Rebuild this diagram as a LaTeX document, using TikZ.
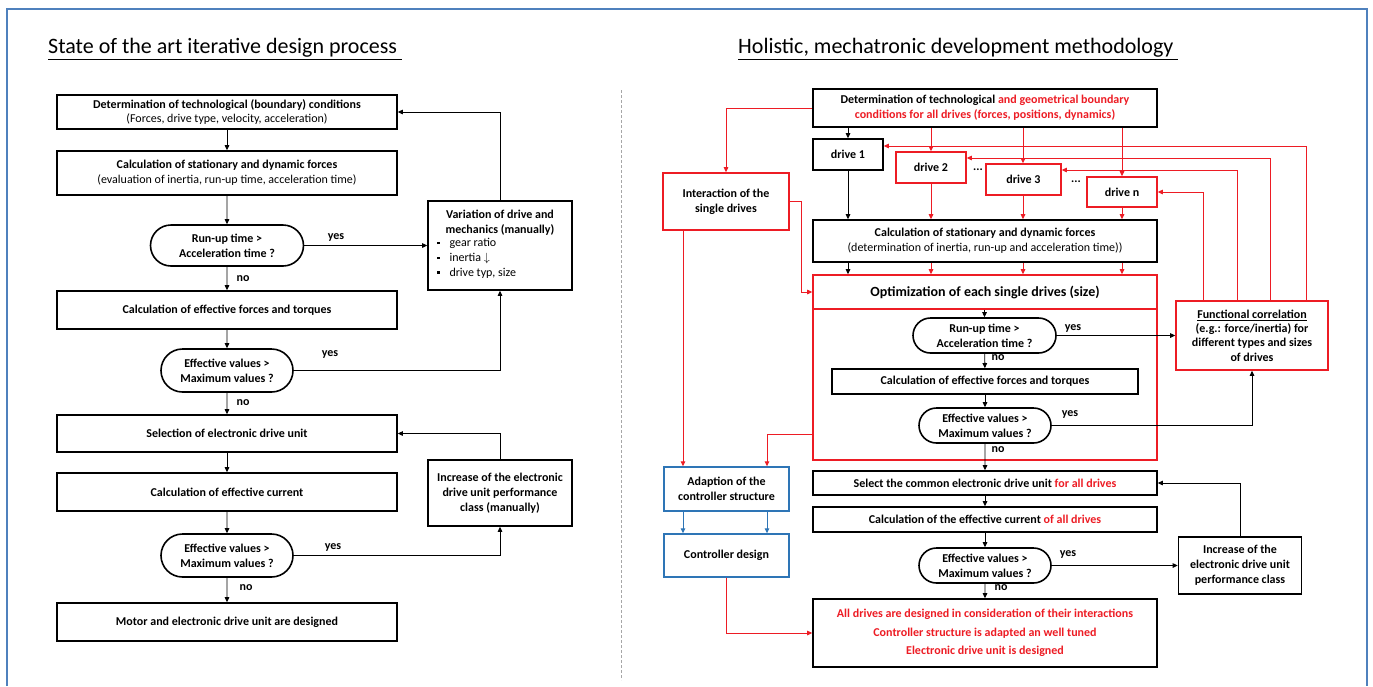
\documentclass[tikz,border=0pt]{standalone}
\usepackage{fontspec}
\setmainfont{Carlito}
\usetikzlibrary{arrows.meta,shapes.misc,calc}
\definecolor{myred}{RGB}{237,28,36}
\definecolor{myblue}{RGB}{46,117,182}
\definecolor{frameblue}{RGB}{79,129,189}
\begin{document}
\begin{tikzpicture}[x=1pt,y=-1pt,
  txt/.style={font=\fontsize{12}{14.8}\selectfont\bfseries},
  box/.style={txt, draw, line width=1.6pt, rectangle, align=center, inner sep=1pt},
  rbox/.style={box, draw=myred},
  bbox/.style={box, draw=myblue, line width=1.4pt},
  dec/.style={txt, draw, line width=1.6pt, rounded rectangle, align=center, inner sep=1pt},
  arr/.style={line width=0.9pt, -{Triangle[length=5pt,width=4.5pt]}},
  rarr/.style={arr, draw=myred},
  barr/.style={arr, draw=myblue},
  lbl/.style={txt, inner sep=0pt},
  title/.style={font=\fontsize{22}{24}\selectfont, inner sep=0pt, anchor=west}
]
\useasboundingbox[fill=white] (0,0) rectangle (1373,686);
\draw[frameblue, line width=1.5pt] (7,686) -- (7,9) -- (1367,9) -- (1367,686);
\draw[gray!70, line width=0.9pt, dash pattern=on 3pt off 2pt] (621,90) -- (621,680);

% titles
\node[title] (T1) at (48,49) {\underline{State of the art iterative design process\ }};
\node[title] (T2) at (738,49) {\underline{Holistic, mechatronic development methodology\ }};

% ---------------- left panel ----------------
\node[box, minimum width=340pt, minimum height=34pt] (L1) at (227,112) {Determination of technological (boundary) conditions\\{\mdseries (Forces, drive type, velocity, acceleration)}};
\node[box, minimum width=340pt, minimum height=44pt] (L2) at (227,173) {Calculation of stationary and dynamic forces\\{\mdseries (evaluation of inertia, run-up time, acceleration time)}};
\node[dec, minimum width=155pt, minimum height=41pt] (L3) at (227,245.5) {Run-up time >\\Acceleration time ?};
\node[box, minimum width=144pt, minimum height=89pt] (LV) at (500,245.5) {Variation of drive and\\mechanics (manually)\\
\makebox[126pt][l]{\mdseries\begin{tabular}{@{}l@{\hspace{10pt}}l@{}}\rule[2.5pt]{2.5pt}{2.5pt} & gear ratio\\ \rule[2.5pt]{2.5pt}{2.5pt} & inertia $\downarrow$\\ \rule[2.5pt]{2.5pt}{2.5pt} & drive typ, size\end{tabular}}};
\node[box, minimum width=340pt, minimum height=38pt] (L4) at (227,310) {Calculation of effective forces and torques};
\node[dec, minimum width=134pt, minimum height=43pt] (L5) at (227,370.5) {Effective values >\\Maximum values ?};
\node[box, minimum width=340pt, minimum height=37pt] (L6) at (227,433.5) {Selection of electronic drive unit};
\node[box, minimum width=340pt, minimum height=38pt] (L7) at (227,492) {Calculation of effective current};
\node[dec, minimum width=134pt, minimum height=43pt] (L8) at (227,555.5) {Effective values >\\Maximum values ?};
\node[box, minimum width=144pt, minimum height=66pt] (LI) at (500,493) {Increase of the electronic\\drive unit performance\\class (manually)};
\node[box, minimum width=340pt, minimum height=38pt] (L9) at (227,622) {Motor and electronic drive unit are designed};

\draw[arr] (L1) -- (L2);
\draw[arr] (L2) -- (L3);
\draw[arr] (L3) -- (L4);
\draw[arr] (L4) -- (L5);
\draw[arr] (L5) -- (L6);
\draw[arr] (L6) -- (L7);
\draw[arr] (L7) -- (L8);
\draw[arr] (L8) -- (L9);
\draw[arr] (L3.east) -- (L3.east -| LV.west);
\draw[arr] (L5.east) -| (LV.south);
\draw[arr] (LV.north) |- (L1.east);
\draw[arr] (L8.east) -| (LI.south);
\draw[arr] (LI.north) |- (L6.east);

\node[lbl] (y1) at (336,237) {yes};
\node[lbl] (y2) at (330,354) {yes};
\node[lbl] (y3) at (333,547) {yes};
\node[lbl] (n1) at (243,279) {no};
\node[lbl] (n2) at (243,403) {no};
\node[lbl] (n3) at (246,588) {no};

% ---------------- right panel ----------------
\node[box, minimum width=344pt, minimum height=38pt] (R1) at (985,108) {Determination of technological \textcolor{myred}{and geometrical boundary}\\\textcolor{myred}{conditions for all drives (forces, positions, dynamics)}};
\node[box, minimum width=70pt, minimum height=31pt] (D1) at (848,154.5) {drive 1};
\node[rbox, minimum width=70pt, minimum height=31pt] (D2) at (931,167.5) {drive 2};
\node[rbox, minimum width=75pt, minimum height=31pt] (D3) at (1023.5,179.5) {drive 3};
\node[rbox, minimum width=70pt, minimum height=30pt] (Dn) at (1122,192) {drive n};
\node[lbl] (dots1) at (978,170) {...};
\node[lbl] (dots2) at (1076,182) {...};
\node[box, minimum width=344pt, minimum height=42pt] (R2) at (985,241) {Calculation of stationary and dynamic forces\\{\mdseries (determination of inertia, run-up and acceleration time))}};
\node[rbox, minimum width=344pt, minimum height=185pt] (OB) at (985,367.5) {};
\node[rbox, minimum width=344pt, minimum height=34pt, font=\fontsize{14}{16}\selectfont\bfseries] (OH) at (985,292) {Optimization of each single drives (size)};
\node[dec, minimum width=145pt, minimum height=35pt] (R3) at (984.5,335.5) {Run-up time >\\Acceleration time ?};
\node[box, minimum width=306pt, minimum height=25pt] (R4) at (985,381.5) {Calculation of effective forces and torques};
\node[dec, minimum width=134pt, minimum height=35pt] (R5) at (985,425.5) {Effective values >\\Maximum values ?};
\node[rbox, minimum width=152pt, minimum height=69pt, font=\fontsize{12}{14.3}\selectfont\bfseries] (FC) at (1252,335.5) {\underline{Functional correlation}\\(e.g.: force/inertia) for\\different types and sizes\\of drives};
\node[rbox, minimum width=126pt, minimum height=57pt] (IS) at (726,201.5) {Interaction of the\\single drives};
\node[bbox, minimum width=125pt, minimum height=44pt] (AD) at (726.5,489) {Adaption of the\\controller structure};
\node[bbox, minimum width=125pt, minimum height=43pt] (CD) at (726.5,555.5) {Controller design};
\node[box, minimum width=344pt, minimum height=24pt] (R6) at (985,483) {Select the common electronic drive unit \textcolor{myred}{for all drives}};
\node[box, minimum width=344pt, minimum height=25pt] (R7) at (985,519.5) {Calculation of the effective current \textcolor{myred}{of all drives}};
\node[dec, minimum width=134pt, minimum height=35pt] (R8) at (985,565.5) {Effective values >\\Maximum values ?};
\node[box, minimum width=123pt, minimum height=57pt] (RI) at (1240,565.5) {Increase of the\\electronic drive unit\\performance class};
\node[box, minimum width=344pt, minimum height=68pt, text=myred, font=\fontsize{12}{18.5}\selectfont\bfseries] (R9) at (985,633) {All drives are designed in consideration of their interactions\\Controller structure is adapted an well tuned\\Electronic drive unit is designed};

% top arrows
\draw[arr] (D1.north |- R1.south) -- (D1.north);
\draw[rarr] (D2.north |- R1.south) -- (D2.north);
\draw[rarr] ([xshift=-0.5pt]D3.north |- R1.south) -- ([xshift=-0.5pt]D3.north);
\draw[rarr] (Dn.north |- R1.south) -- (Dn.north);
\draw[arr] (D1) -- (D1 |- R2.north);
\draw[rarr] (D2) -- (D2 |- R2.north);
\draw[rarr] ([xshift=-0.5pt]D3.south) -- ([xshift=-0.5pt]D3.south |- R2.north);
\draw[rarr] (Dn) -- (Dn |- R2.north);
\draw[arr] (D1 |- R2.south) -- (D1 |- OH.north);
\draw[rarr] (D2 |- R2.south) -- (D2 |- OH.north);
\draw[rarr] ([xshift=-0.5pt]D3.south |- R2.south) -- ([xshift=-0.5pt]D3.south |- OH.north);
\draw[rarr] (Dn |- R2.south) -- (Dn |- OH.north);

% feedback from functional correlation
\draw[rarr] ([xshift=-49pt]FC.north) |- (Dn.east);
\draw[rarr] ([xshift=-15pt]FC.north) |- ([yshift=9.5pt]D3.east);
\draw[rarr] ([xshift=18pt]FC.north) |- ([yshift=9.5pt]D2.east);
\draw[rarr] ([xshift=54pt]FC.north) |- ([yshift=8.5pt]D1.east);

% optimisation inner flow
\draw[arr] (OH.south -| R3.north) -- (R3.north);
\draw[arr] (R3) -- (R4);
\draw[arr] (R4) -- (R5);
\draw[arr] (R5) -- (R6);
\draw[arr] (R6) -- (R7);
\draw[arr] (R7) -- (R8);
\draw[arr] (R8) -- (R9);
\draw[arr] (R3.east) -- (R3.east -| FC.west);
\draw[arr] (R5.east) -| (FC.south);
\draw[arr] (R8.east) -- (R8.east -| RI.west);
\draw[arr] (RI.north) |- (R6.east);

% interaction / controller
\draw[rarr] (R1.west) -| (IS.north);
\draw[rarr] (IS.east) -- ++(12,0) |- (OH.west);
\draw[rarr] ([xshift=-43pt]IS.south) -- ([xshift=-43pt]IS.south |- AD.north);
\draw[rarr] ([yshift=-66.5pt]OB.west) -| ([xshift=40.5pt]AD.north);
\draw[barr] ([xshift=-43.5pt]AD.south) -- ([xshift=-43.5pt]CD.north);
\draw[barr] ([xshift=40.5pt]AD.south) -- ([xshift=40.5pt]CD.north);
\draw[rarr] (CD.south) |- (R9.west);

\node[lbl] (y4) at (1073,328) {yes};
\node[lbl] (y5) at (1070,414) {yes};
\node[lbl] (y6) at (1068,554) {yes};
\node[lbl] (n4) at (998,358) {no};
\node[lbl] (n5) at (998,450) {no};
\node[lbl] (n6) at (1001,588) {no};
\end{tikzpicture}
\end{document}
